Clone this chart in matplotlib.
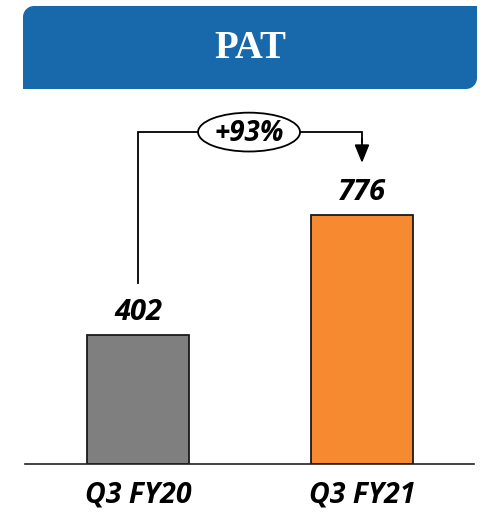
import matplotlib
matplotlib.use("Agg")
import matplotlib.pyplot as plt
from matplotlib.path import Path
from matplotlib.patches import PathPatch, Ellipse

# data
categories = ["Q3 FY20", "Q3 FY21"]
pat_values = [402, 776]
growth_label = "+93%"
bar_colors = ["#7F7F7F", "#F58A30"]

W, H = 482, 513
fig = plt.figure(figsize=(W / 100, H / 100), dpi=100)

# overlay in pixel coords for the header banner
bg = fig.add_axes([0, 0, 1, 1])
bg.set_xlim(0, W)
bg.set_ylim(H, 0)
bg.axis("off")

x0, x1, y0, y1, r = 23, 477, 6, 89, 11
k = 0.55 * r
verts = [
    (x0 + r, y0), (x1, y0), (x1, y1 - r),
    (x1, y1 - r + k), (x1 - r + k, y1), (x1 - r, y1),
    (x0, y1), (x0, y0 + r),
    (x0, y0 + r - k), (x0 + r - k, y0), (x0 + r, y0),
]
codes = [Path.MOVETO, Path.LINETO, Path.LINETO,
         Path.CURVE4, Path.CURVE4, Path.CURVE4,
         Path.LINETO, Path.LINETO,
         Path.CURVE4, Path.CURVE4, Path.CURVE4]
bg.add_patch(PathPatch(Path(verts, codes), facecolor="#1868AC", edgecolor="none"))
bg.text(250, 48, "PAT", ha="center", va="center", color="white",
        fontsize=28, fontweight="bold", family="Liberation Serif")

# bar axes: baseline at y=464px, 0.321 px per unit
px_per_unit = 0.321
ymax = 1100
ax_h = ymax * px_per_unit
ax = fig.add_axes([25 / W, (H - 464) / H, 449 / W, ax_h / H])
ax.patch.set_alpha(0)
ax.set_xlim(-0.504, 1.5)
ax.set_ylim(0, ymax)

xs = list(range(len(categories)))
ax.bar(xs, pat_values, width=0.455, color=bar_colors, edgecolor="#1a1a1a",
       linewidth=1.3, zorder=3)

lbl = dict(fontsize=21, fontweight="bold", fontstyle="italic", family="Open Sans")
for x, v in zip(xs, pat_values):
    ax.text(x, v + 70, str(v), ha="center", va="center", **lbl)

# growth connector
level = 1034
ax.plot([xs[0], xs[0], xs[1], xs[1]], [pat_values[0] + 162, level, level, level - 30],
        color="black", lw=1.3, solid_joinstyle="miter", clip_on=False, zorder=4)
ax.annotate("", xy=(xs[1], level - 96), xytext=(xs[1], level - 20),
            arrowprops=dict(arrowstyle="-|>,head_length=1.1,head_width=0.45",
                            mutation_scale=10, color="black", lw=1.3,
                            shrinkA=0, shrinkB=0),
            annotation_clip=False, zorder=4)
ax.add_patch(Ellipse((0.496, level), 0.455, 121, facecolor="white",
                     edgecolor="black", lw=1.3, clip_on=False, zorder=5))
ax.text(0.496, level - 3, growth_label, ha="center", va="center", zorder=6,
        fontsize=20, fontweight="bold", fontstyle="italic", family="Open Sans")

ax.set_xticks(xs)
ax.set_xticklabels(categories, fontsize=20.5, fontweight="bold",
                   fontstyle="italic", family="Open Sans")
ax.tick_params(axis="x", length=0, pad=12)
ax.set_yticks([])
for s in ["top", "left", "right"]:
    ax.spines[s].set_visible(False)
ax.spines["bottom"].set_color("#222222")
ax.spines["bottom"].set_linewidth(1.2)
ax.spines["bottom"].set_zorder(4)

fig.savefig("out.png", dpi=100)
